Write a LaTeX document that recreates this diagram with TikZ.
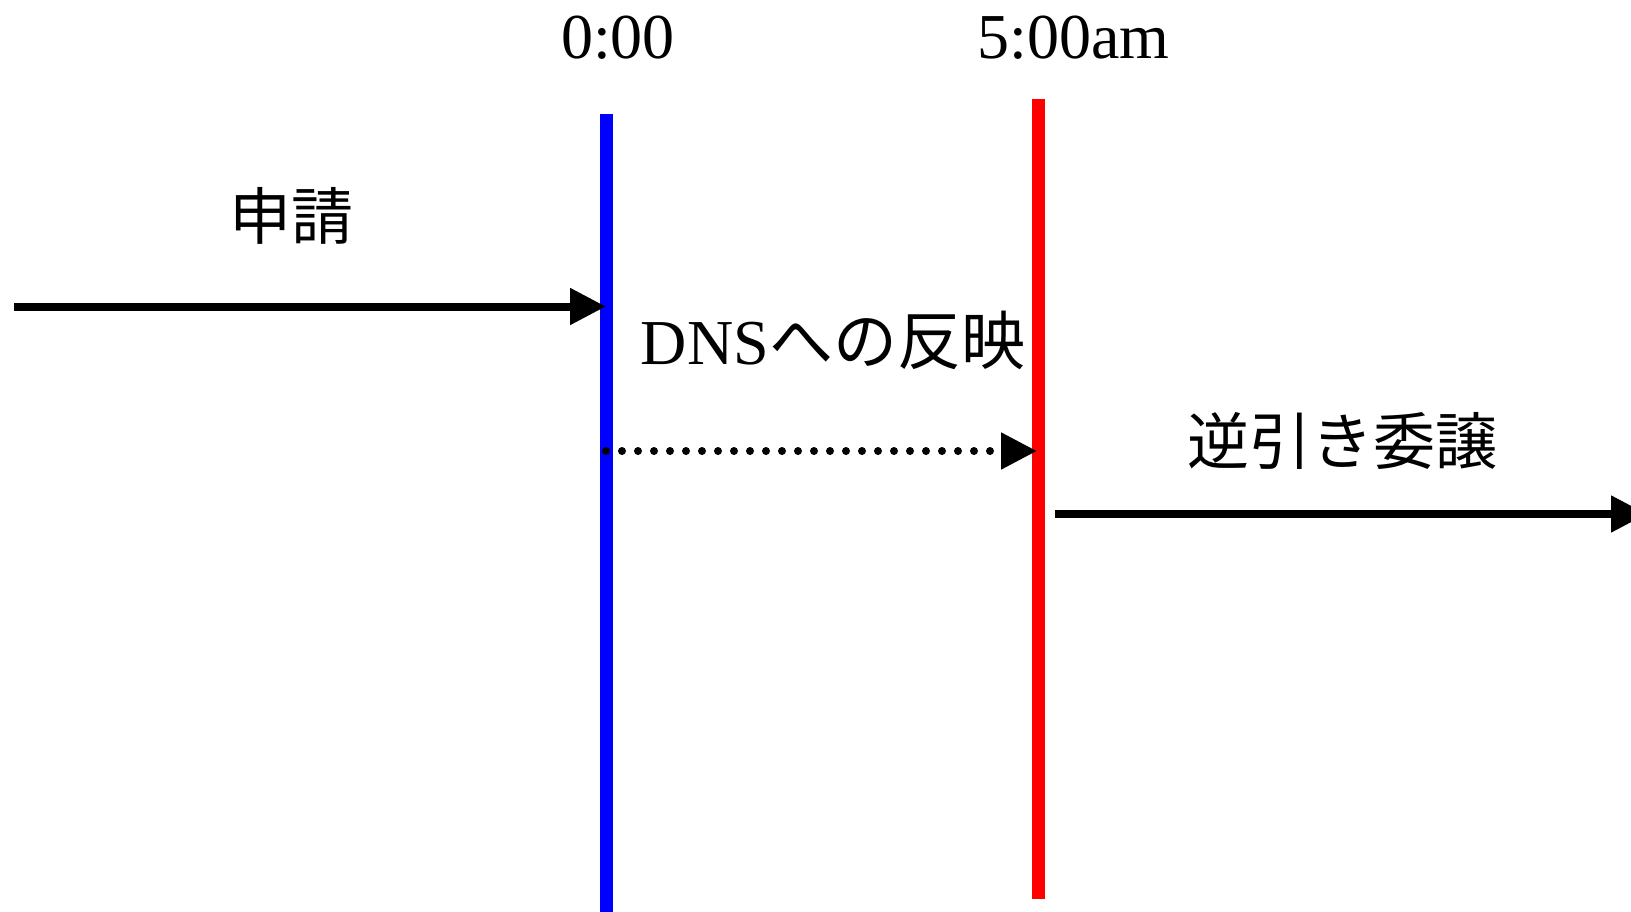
\documentclass[tikz,border=0pt]{standalone}
\usepackage{fontspec}
\setmainfont{Liberation Serif}
\newfontfamily\jp{Noto Sans CJK JP}
\usetikzlibrary{arrows.meta}
\begin{document}
\begin{tikzpicture}[x=1pt,y=-1pt,
  lbl/.style={inner sep=0pt,font=\fontsize{64}{76}\selectfont},
  jlbl/.style={inner sep=0pt,font=\fontsize{62}{74}\selectfont\jp},
  bar/.style={line width=13pt},
  arr/.style={line width=8pt,-{Triangle[length=36pt,width=35pt]}},
  dotarr/.style={arr,dash pattern=on 0pt off 16pt,line cap=round}]
\useasboundingbox (0,0) rectangle (1631,912);
% time markers
\coordinate (btop) at (606,114);
\coordinate (bbot) at (606,915);
\coordinate (rtop) at (1038,99);
\coordinate (rbot) at (1038,899);
\draw[bar,blue] (btop) -- (bbot);
\draw[bar,red] (rtop) -- (rbot);
% labels
\node[lbl,anchor=base] (t0) at (618,59) {0:00};
\node[lbl,anchor=base] (t5) at (1073.5,59) {5:00am};
\node[jlbl] (apply) at (291.5,216) {申請};
\node[lbl,anchor=base] (dns) at (833,364) {DNS{\jp への反映}};
\node[jlbl] (rev) at (1342,441) {逆引き委譲};
% connectors
\coordinate (a1s) at (14,306.5);
\coordinate (a1e) at (606,306.5);
\draw[arr] (a1s) -- (a1e);
\coordinate (a2s) at (606,451);
\coordinate (a2e) at (1037,451);
\draw[dotarr] (a2s) -- (a2e);
\coordinate (a3s) at (1055,514);
\coordinate (a3e) at (1647,514);
\draw[arr] (a3s) -- (a3e);
\end{tikzpicture}
\end{document}
